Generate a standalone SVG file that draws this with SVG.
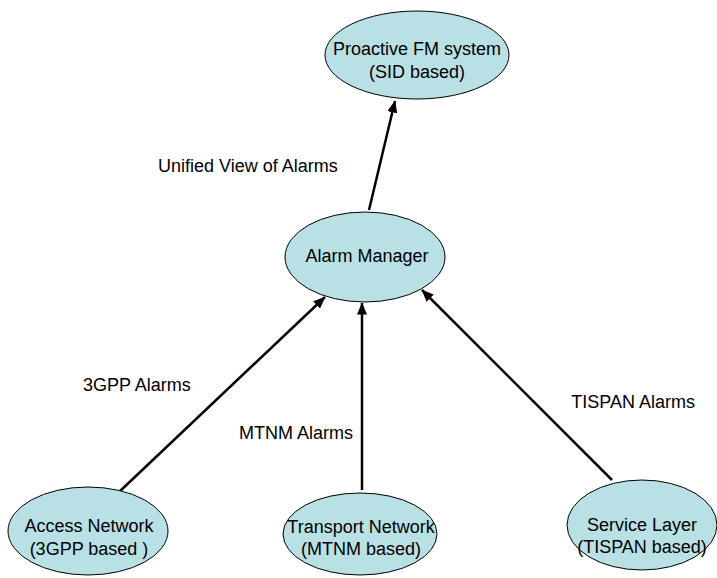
<svg xmlns="http://www.w3.org/2000/svg" width="717" height="578" viewBox="0 0 717 578">
<style>
.node ellipse{fill:#B9E0E4;stroke:#000;stroke-width:1}
text{font-family:"Liberation Sans",Arial,sans-serif;font-size:18px;fill:#000}
.c{text-anchor:middle}
.edge{stroke:#000;stroke-width:2.5;fill:none;marker-end:url(#ah)}
</style>
<defs>
<marker id="ah" markerUnits="userSpaceOnUse" markerWidth="12" markerHeight="10" viewBox="0 0 12 10" refX="11.5" refY="5" orient="auto">
<path d="M0,0 L12,5 L0,10 Z" fill="#000"/>
</marker>
</defs>
<rect width="717" height="578" fill="#fff"/>
<g id="connectors">
<line class="edge" x1="369" y1="210" x2="395" y2="101"/>
<line class="edge" x1="118" y1="493" x2="325" y2="297"/>
<line class="edge" x1="362" y1="490" x2="362" y2="303"/>
<line class="edge" x1="612" y1="480" x2="422" y2="290"/>
</g>
<g id="labels">
<text x="158" y="172">Unified View of Alarms</text>
<text x="83" y="391">3GPP Alarms</text>
<text x="239" y="439">MTNM Alarms</text>
<text x="695" y="408" text-anchor="end">TISPAN Alarms</text>
</g>
<g id="proactive" class="node">
<ellipse cx="417" cy="55" rx="92" ry="44"/>
<text class="c" x="417" y="55" font-size="17">Proactive FM system</text>
<text class="c" x="417" y="78" font-size="17">(SID based)</text>
</g>
<g id="alarm-manager" class="node">
<ellipse cx="365" cy="257" rx="80" ry="45"/>
<text class="c" x="367" y="262">Alarm Manager</text>
</g>
<g id="access-network" class="node">
<ellipse cx="88" cy="531" rx="80" ry="44"/>
<text class="c" x="89" y="532">Access Network</text>
<text class="c" x="89" y="555">(3GPP based )</text>
</g>
<g id="transport-network" class="node">
<ellipse cx="360" cy="534" rx="77" ry="41"/>
<text class="c" x="361" y="533">Transport Network</text>
<text class="c" x="361" y="555">(MTNM based)</text>
</g>
<g id="service-layer" class="node">
<ellipse cx="642" cy="525" rx="75" ry="45"/>
<text class="c" x="642" y="531">Service Layer</text>
<text class="c" x="642" y="553">(TISPAN based)</text>
</g>
</svg>
